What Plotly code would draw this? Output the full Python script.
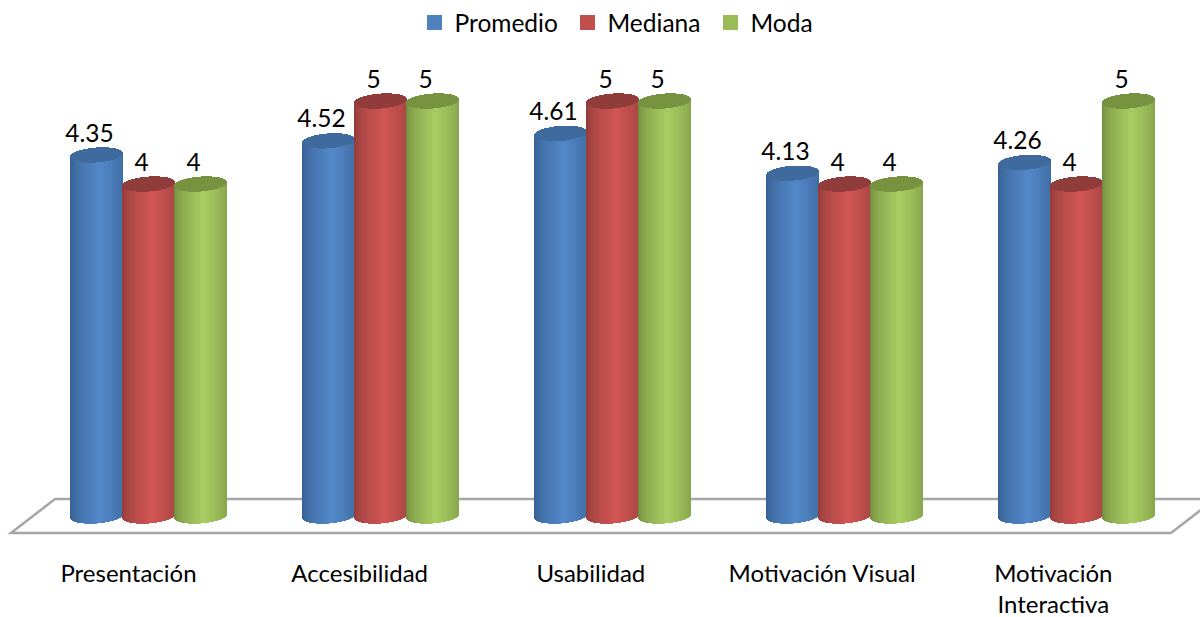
import math
import plotly.graph_objects as go

categories = ["Presentación", "Accesibilidad", "Usabilidad", "Motivación Visual", "Motivación<br>Interactiva"]
promedio = [4.35, 4.52, 4.61, 4.13, 4.26]
mediana = [4, 5, 5, 4, 4]
moda = [4, 5, 5, 4, 5]
series_names = ["Promedio", "Mediana", "Moda"]
value_text = [["4.35", "4.52", "4.61", "4.13", "4.26"],
              ["4", "5", "5", "4", "4"],
              ["4", "5", "5", "4", "5"]]

W, H = 1200, 617
PLOT_BOTTOM = 533
GROUP_PX, FIRST_PX = 232.0, 148.5
LABEL_PITCH_PX = 231.2
Y_UNIT_PX, ZERO_PX = 83.0, 516.0
DX = 1 / GROUP_PX
DY = 1 / Y_UNIT_PX
DIAM = 53
OFFSETS = [-52, 0, 52]
CAP_B = 7.5
SLOPE = 1.8 / 26.5
FONT = "Lato"
FS = 24.5

legend_col = ["#4F81BD", "#C0504D", "#9BBB59"]
legend_left_px = [414.5, 567.5, 710.5]
legend_ids = ["legend", "legend2", "legend3"]
edge_col = [(52, 92, 140), (140, 58, 56), (110, 135, 60)]
mid_col = [(82, 135, 200), (208, 85, 83), (168, 205, 97)]
cap_col = [(62, 106, 157), (143, 60, 58), (120, 147, 63)]


def hexc(c):
    return "rgb(%d,%d,%d)" % tuple(round(v) for v in c)


def mix(a, b, t):
    return [a[i] + (b[i] - a[i]) * t for i in range(3)]


x = list(range(len(categories)))
values = [promedio, mediana, moda]
fig = go.Figure()

N = DIAM
for s, name in enumerate(series_names):
    # legend-carrying series bar, hidden under the cylinder shading
    fig.add_trace(go.Bar(x=x, y=values[s], name=name, width=(DIAM - 10) * DX,
                         offset=(OFFSETS[s] - (DIAM - 10) / 2) * DX,
                         marker=dict(color=legend_col[s], line=dict(color=legend_col[s], width=3)),
                         hoverinfo="skip", showlegend=True, legend=legend_ids[s]))
    for k in range(N):
        px = -DIAM / 2 + k + 0.5
        u = px / (DIAM / 2)
        t = (1 - abs((u + 1) / 2 - 0.56) / 0.56)
        t = max(0, min(1, t)) ** 0.55
        color = hexc(mix(edge_col[s], mid_col[s], t))
        dome = CAP_B * math.sqrt(max(0, 1 - u * u))
        off = (OFFSETS[s] + px - 0.5) * DX
        base = [(SLOPE * px - dome) * DY] * len(x)
        tops = [v + SLOPE * px * DY for v in values[s]]
        fig.add_trace(go.Bar(x=x, y=[tp - b for tp, b in zip(tops, base)], base=base,
                             width=DX, offset=off, marker=dict(color=color, line=dict(width=0)),
                             hoverinfo="skip", showlegend=False))
    for k in range(N):
        px = -DIAM / 2 + k + 0.5
        u = px / (DIAM / 2)
        dome = CAP_B * math.sqrt(max(0, 1 - u * u))
        off = (OFFSETS[s] + px - 0.5) * DX
        base = [v + (SLOPE * px - dome) * DY for v in values[s]]
        fig.add_trace(go.Bar(x=x, y=[2 * dome * DY] * len(x), base=base, width=DX, offset=off,
                             marker=dict(color=hexc(cap_col[s]), line=dict(width=0)),
                             hoverinfo="skip", showlegend=False))

for s in range(3):
    fig.add_trace(go.Scatter(x=[i + (OFFSETS[s] - 7) * DX for i in x],
                             y=[v + 19.5 * DY for v in values[s]],
                             text=value_text[s], mode="text", textposition="middle center",
                             textfont=dict(family=FONT, size=FS, color="#000000"),
                             hoverinfo="skip", showlegend=False))

floor = "M %f %f L %f %f L %f %f L %f %f Z" % (
    11 / W, 0, 55 / W, (PLOT_BOTTOM - 499) / PLOT_BOTTOM,
    1215 / W, (PLOT_BOTTOM - 499) / PLOT_BOTTOM, 1171 / W, 0)

legends = {}
for lid, left in zip(legend_ids, legend_left_px):
    legends[lid] = dict(orientation="h", x=left / W, xanchor="left", y=1.0, yanchor="top",
                        font=dict(family=FONT, size=FS), itemwidth=30,
                        bgcolor="rgba(0,0,0,0)")

fig.update_layout(
    width=W, height=H, barmode="overlay", bargap=0,
    margin=dict(l=0, r=0, t=0, b=H - PLOT_BOTTOM, pad=0),
    paper_bgcolor="#ffffff", plot_bgcolor="#ffffff",
    font=dict(family=FONT, size=FS, color="#000000"),
    shapes=[dict(type="path", path=floor, xref="paper", yref="paper", layer="below",
                 line=dict(color="#A6A6A6", width=2.5), fillcolor="rgba(0,0,0,0)")],
    xaxis=dict(range=[-FIRST_PX / GROUP_PX, (W - FIRST_PX) / GROUP_PX], tickmode="array",
               tickvals=[i * LABEL_PITCH_PX / GROUP_PX for i in x], ticktext=categories,
               ticks="", showgrid=False, zeroline=False,
               showline=False, ticklabelshift=-20, ticklabelstandoff=24, automargin=False,
               tickfont=dict(family=FONT, size=24, color="#000000")),
    yaxis=dict(range=[(ZERO_PX - PLOT_BOTTOM) / Y_UNIT_PX, ZERO_PX / Y_UNIT_PX], visible=False,
               showgrid=False, zeroline=False, automargin=False),
    **legends,
)

fig.write_html("out.html", config={"displayModeBar": False},
               post_script="document.body.style.margin='0';document.body.style.overflow='hidden';")
